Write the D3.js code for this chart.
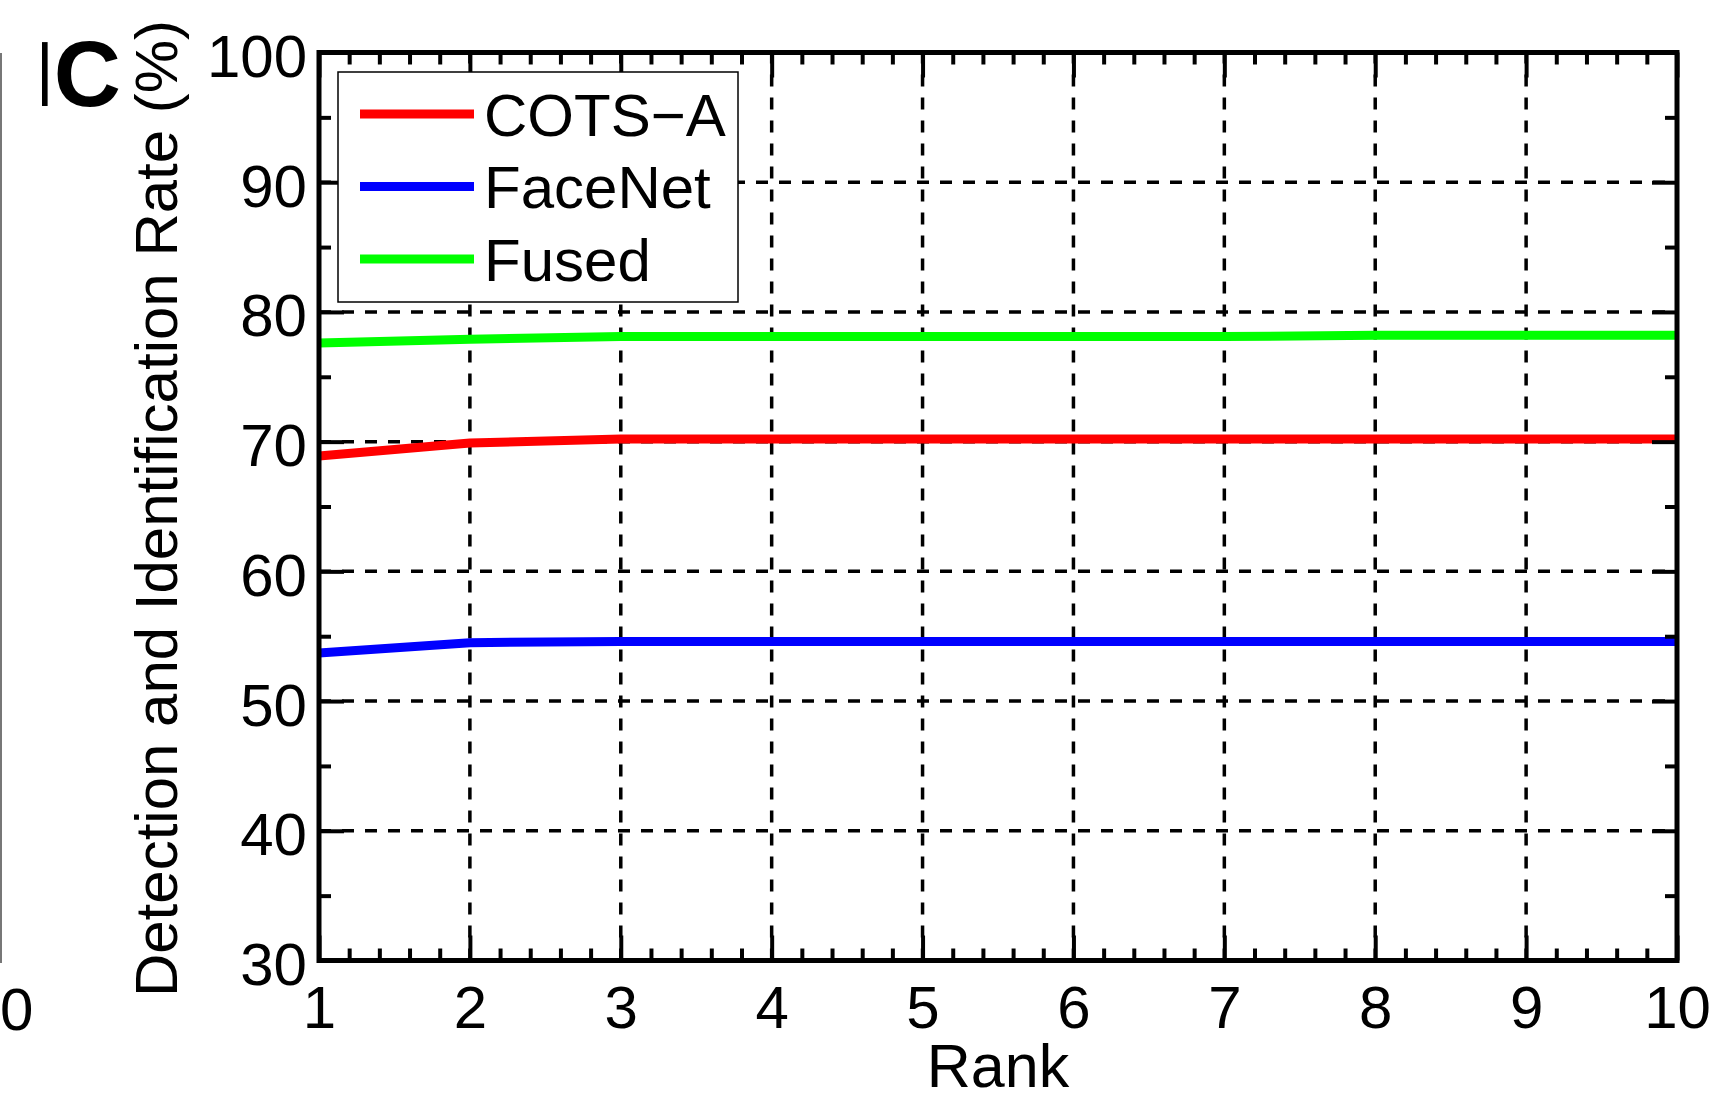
<!DOCTYPE html>
<html>
<head>
<meta charset="utf-8">
<script src="https://cdn.jsdelivr.net/npm/d3@7"></script>
<style>
  html, body { margin: 0; padding: 0; background: #fff; }
  svg { display: block; }
  text { font-family: "Liberation Sans", Arial, Helvetica, sans-serif; fill: #000; }
</style>
</head>
<body>
<svg id="chart" width="1716" height="1099"></svg>
<script>
// ---- data ----
const ranks = [1, 2, 3, 4, 5, 6, 7, 8, 9, 10];
const cotsA = [68.9, 69.9, 70.2, 70.2, 70.2, 70.2, 70.2, 70.2, 70.2, 70.2];
const faceNet = [53.7, 54.5, 54.6, 54.6, 54.6, 54.6, 54.6, 54.6, 54.6, 54.6];
const fused = [77.6, 77.9, 78.1, 78.1, 78.1, 78.1, 78.1, 78.2, 78.2, 78.2];
const seriesNames = ["COTS\u2212A", "FaceNet", "Fused"];
const seriesColors = ["#ff0000", "#0000ff", "#00ff00"];
const xTicks = [1, 2, 3, 4, 5, 6, 7, 8, 9, 10];
const yTicks = [30, 40, 50, 60, 70, 80, 90, 100];
const xLabel = "Rank";
const yLabel = "Detection and Identification Rate (%)";

// ---- layout ----
const L = 319, R = 1677, T = 52.5, B = 960.5;
const svg = d3.select("#chart");
svg.append("rect").attr("width", 1716).attr("height", 1099).attr("fill", "#fff");

const x = d3.scaleLinear().domain([1, 10]).range([L, R]);
const y = d3.scaleLinear().domain([30, 100]).range([B, T]);

const xMinor = d3.range(1, 10.001, 0.2).map(v => Math.round(v * 10) / 10).filter(v => !xTicks.includes(v));
const yMinor = d3.range(35, 100, 10);

// neighbouring panel remnants
svg.append("line").attr("x1", 1).attr("x2", 1).attr("y1", 53).attr("y2", 963)
  .attr("stroke", "#777").attr("stroke-width", 2);
svg.append("clipPath").attr("id", "icclip").append("rect")
  .attr("x", 42).attr("y", 0).attr("width", 200).attr("height", 200);
svg.append("text").attr("x", 28).attr("y", 106)
  .attr("font-size", 93).attr("font-weight", "bold").attr("clip-path", "url(#icclip)")
  .text("IC");
svg.append("text").attr("x", 0).attr("y", 1030).attr("font-size", 60).text("0");

// ---- grid ----
const grid = svg.append("g").attr("stroke", "#000").attr("stroke-width", 3.5)
  .attr("stroke-dasharray", "12,11").attr("fill", "none");
grid.selectAll(".vg").data(xTicks.slice(1, -1)).join("line")
  .attr("x1", d => x(d)).attr("x2", d => x(d)).attr("y1", B).attr("y2", T);
grid.selectAll(".hg").data(yTicks.slice(1, -1)).join("line")
  .attr("x1", L).attr("x2", R).attr("y1", d => y(d)).attr("y2", d => y(d));

// ---- lines ----
const allSeries = [cotsA, faceNet, fused];
const lineGen = d3.line().x((d, i) => x(ranks[i])).y(d => y(d));
svg.append("g").selectAll("path").data(allSeries).join("path")
  .attr("d", d => lineGen(d))
  .attr("fill", "none")
  .attr("stroke", (d, i) => seriesColors[i])
  .attr("stroke-width", 9)
  .attr("stroke-linejoin", "round");

// ---- axes (ticks inward on all four sides) ----
function styleAxis(g) {
  g.select(".domain").remove();
  g.selectAll(".tick line").attr("stroke", "#000").attr("stroke-width", 4);
  g.selectAll("text").attr("font-size", 60).attr("fill", "#000")
    .attr("font-family", "Liberation Sans, Arial, Helvetica, sans-serif");
}
svg.append("g").attr("transform", `translate(0,${B})`)
  .call(d3.axisBottom(x).tickValues(xTicks).tickFormat(d3.format("d")).tickSize(-25).tickPadding(25))
  .call(styleAxis);
svg.append("g").attr("transform", `translate(0,${B})`)
  .call(d3.axisBottom(x).tickValues(xMinor).tickFormat("").tickSize(-12))
  .call(styleAxis);
svg.append("g").attr("transform", `translate(0,${T})`)
  .call(d3.axisTop(x).tickValues(xTicks).tickFormat("").tickSize(-25))
  .call(styleAxis);
svg.append("g").attr("transform", `translate(0,${T})`)
  .call(d3.axisTop(x).tickValues(xMinor).tickFormat("").tickSize(-12))
  .call(styleAxis);
svg.append("g").attr("transform", `translate(${L},0)`)
  .call(d3.axisLeft(y).tickValues(yTicks).tickFormat(d3.format("d")).tickSize(-25).tickPadding(12))
  .call(styleAxis)
  .call(g => g.selectAll("text").attr("dy", "0.4em"));
svg.append("g").attr("transform", `translate(${L},0)`)
  .call(d3.axisLeft(y).tickValues(yMinor).tickFormat("").tickSize(-12))
  .call(styleAxis);
svg.append("g").attr("transform", `translate(${R},0)`)
  .call(d3.axisRight(y).tickValues(yTicks).tickFormat("").tickSize(-25))
  .call(styleAxis);
svg.append("g").attr("transform", `translate(${R},0)`)
  .call(d3.axisRight(y).tickValues(yMinor).tickFormat("").tickSize(-12))
  .call(styleAxis);

// box
svg.append("rect").attr("x", L).attr("y", T).attr("width", R - L).attr("height", B - T)
  .attr("fill", "none").attr("stroke", "#000").attr("stroke-width", 5);

// ---- axis labels ----
svg.append("text").attr("x", (L + R) / 2).attr("y", 1087).attr("text-anchor", "middle")
  .attr("font-size", 61).text(xLabel);
svg.append("text").attr("transform", `translate(177,${(T + B) / 2 + 2}) rotate(-90)`)
  .attr("text-anchor", "middle").attr("font-size", 60).text(yLabel);

// ---- legend ----
const leg = svg.append("g");
leg.append("rect").attr("x", 338).attr("y", 72).attr("width", 400).attr("height", 230)
  .attr("fill", "#fff").attr("stroke", "#000").attr("stroke-width", 1.5);
const items = leg.selectAll(".item").data(seriesNames).join("g")
  .attr("transform", (d, i) => `translate(0,${114 + i * 72.5})`);
items.append("line").attr("x1", 360).attr("x2", 474).attr("y1", 0).attr("y2", 0)
  .attr("stroke", (d, i) => seriesColors[i]).attr("stroke-width", 9);
items.append("text").attr("x", 484).attr("y", 21.5).attr("font-size", 60).text(d => d);
</script>
</body>
</html>
